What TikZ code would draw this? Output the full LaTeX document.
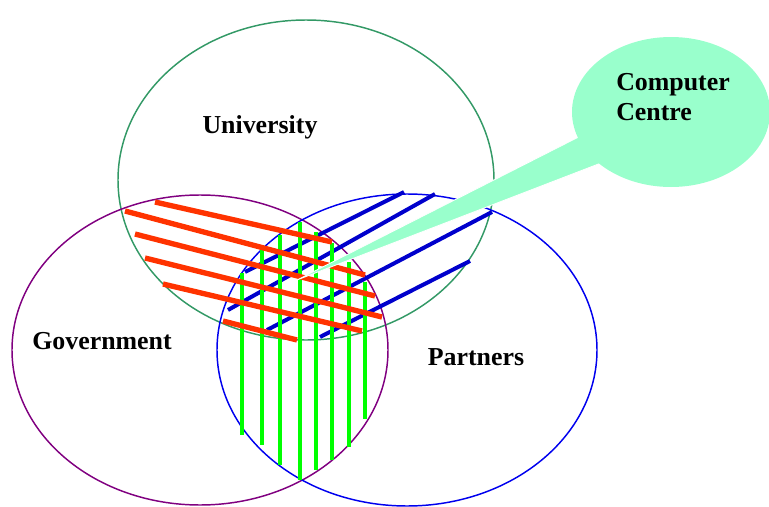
\documentclass[tikz,border=0pt]{standalone}
\usepackage{fontspec}
\setmainfont{Liberation Serif}
\usepackage{tikz}
\usetikzlibrary{positioning}

\definecolor{univgreen}{HTML}{339966}
\definecolor{govpurple}{HTML}{800080}
\definecolor{partblue}{HTML}{0000EE}
\definecolor{hatchred}{HTML}{FF3300}
\definecolor{hatchblue}{HTML}{0000CC}
\definecolor{hatchgreen}{HTML}{00FF00}
\definecolor{mint}{HTML}{99FFCC}

\begin{document}
\begin{tikzpicture}[
    x=0.75pt,y=-0.75pt,
    set/.style={line width=1.1pt},
    redline/.style={hatchred,line width=4pt},
    blueline/.style={hatchblue,line width=3pt},
    greenline/.style={hatchgreen,line width=3.2pt},
    bubble/.style={fill=mint},
    lbl/.style={font=\fontsize{19.4}{22.5}\selectfont\bfseries,inner sep=0pt},
  ]
    \useasboundingbox (0,0) rectangle (769,507);
    % the three sets
    \draw[set,univgreen] (306,180) ellipse [x radius=188,y radius=160];
    \draw[set,govpurple] (200,350) ellipse [x radius=188,y radius=155];
    \draw[set,partblue]  (407,350) ellipse [x radius=190,y radius=156];
    % hatching
    \foreach \xa/\ya/\xb/\yb in {404/192/245/272, 435/194/228/310,
        492/212/267/330, 470/261/320/337}
      \draw[blueline] (\xa,\ya) -- (\xb,\yb);
    \foreach \x/\ya/\yb in {242/273/435, 262/250/445, 280/235/465, 300/222/480,
        316/232/470, 332/243/460, 349/262/447, 365/282/419}
      \draw[greenline] (\x,\ya) -- (\x,\yb);
    \foreach \xa/\ya/\xb/\yb in {155/202/332/242, 125/211/365/275, 135/234/375/296,
        145/258/382/317, 163/284/362/331, 223/321/297/340}
      \draw[redline] (\xa,\ya) -- (\xb,\yb);
    % callout
    \filldraw[bubble,draw=white,line width=0.6pt] (297,280) -- (620,116) -- (640,148) -- cycle;
    \fill[bubble] (671,112) ellipse [x radius=99,y radius=75];
    % labels
    \node[lbl,anchor=base] (univ) at (260,133) {University};
    \node[lbl,anchor=base] (govt) at (102,349) {Government};
    \node[lbl,anchor=base] (partn) at (476,365) {Partners};
    \node[lbl,anchor=base west] (comp) at (616,90) {Computer};
    \node[lbl,anchor=base west] (centre) at (616,120) {Centre};
  \end{tikzpicture}
\end{document}
